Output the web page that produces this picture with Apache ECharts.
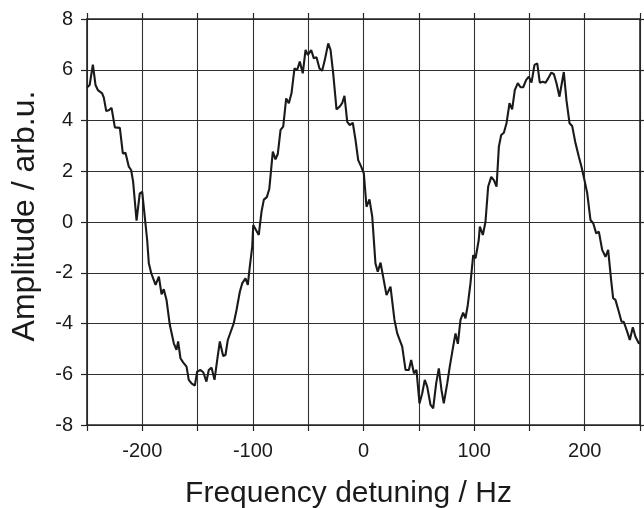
<!DOCTYPE html>
<html>
<head>
<meta charset="utf-8">
<script src="https://cdn.jsdelivr.net/npm/echarts@6/dist/echarts.min.js"></script>
<style>
  html, body { margin: 0; padding: 0; background: #fff; }
  #chart { width: 644px; height: 508px; }
</style>
</head>
<body>
<div id="chart"></div>
<script>
// detuning in Hz
var freq = [
  -250, -247.6, -244.7, -242.3, -240.2, -236.3, -234.8, -232.6, -230.3, -227.8,
  -224.8, -220.3, -217.6, -215.2, -212.2, -210.1, -208.3, -205.2, -202.3, -200.1,
  -195.6, -194.1, -191.9, -188, -185, -182.6, -180.6, -178.1, -175.1, -171.5,
  -169.1, -167.6, -165.5, -163.1, -160, -158, -155.5, -152.5, -150.4, -147.4,
  -144.9, -142, -139.9, -137.4, -134.7, -132.3, -129.9, -126.9, -124.8, -122.7,
  -117.3, -114.8, -111.8, -109.7, -106.7, -104.6, -102.8, -100.6, -99.7, -94.7,
  -92.2, -90.1, -87.4, -85.2, -84.7, -82, -79.6, -77.5, -75, -72.6,
  -69.9, -67.5, -65.1, -62.4, -60, -57.6, -54.9, -52.4, -50.3, -47.3,
  -44.9, -42.5, -39.8, -37.4, -35, -31.9, -29.8, -27.4, -24.4, -21.7,
  -19.3, -17.2, -14.7, -12.4, -9.7, -7.2, -4.8, -2.1, 0.3, 2.7,
  5.4, 7.9, 10.8, 12.9, 15.4, 20.8, 24.4, 28, 30.5, 35,
  38, 41, 43.1, 45.6, 47.9, 50.6, 53.1, 55.4, 57.6, 60.6,
  63, 65.7, 68.1, 70.5, 72.6, 75.7, 78, 81.1, 83.2, 85.3,
  87.7, 90.1, 92.2, 94.3, 96.7, 99.2, 101.3, 104.2, 105.2, 107.9,
  110.3, 112.7, 115.5, 117.9, 120.3, 122.4, 124.5, 126.9, 129.3, 132,
  134.4, 136.8, 139.5, 142, 144.4, 147.1, 149.5, 151.9, 154.6, 157.1,
  159.4, 162.2, 164.6, 167, 169.7, 172.1, 174.5, 177.2, 179, 181.1,
  183.5, 186.3, 188.7, 191.7, 194.7, 197.1, 199.8, 202.3, 205.2, 207.7,
  210.4, 212.8, 215.8, 218.8, 221.2, 223.9, 225.7, 227.8, 230.8, 233.3,
  235.3, 238.4, 240.8, 243.5, 245.9, 248.9, 250
];

// amplitude in arb.u.
var amp = [
  5.3, 5.4, 6.2, 5.4, 5.2, 5.07, 4.9, 4.37, 4.4, 4.5,
  3.73, 3.71, 2.7, 2.73, 2.18, 2.05, 1.59, 0.05, 1.13, 1.19,
  -0.71, -1.63, -2.02, -2.48, -2.15, -2.85, -2.65, -3.07, -4.06, -4.78,
  -5.04, -4.71, -5.37, -5.53, -5.7, -6.22, -6.36, -6.45, -5.9, -5.83,
  -5.92, -6.29, -5.83, -5.74, -6.22, -5.44, -4.71, -5.28, -5.24, -4.65,
  -3.99, -3.47, -2.75, -2.42, -2.22, -2.48, -1.76, -0.97, -0.12, -0.51,
  0.41, 0.88, 0.98, 1.3, 1.52, 2.77, 2.47, 2.68, 3.63, 3.76,
  4.87, 4.68, 5.07, 6.05, 5.99, 6.32, 5.86, 6.78, 6.58, 6.78,
  6.45, 6.49, 6.05, 5.96, 6.38, 7.04, 6.78, 5.86, 4.44, 4.54,
  4.68, 4.97, 3.95, 3.82, 3.91, 3.23, 2.44, 2.18, 1.92, 0.6,
  0.89, 0.21, -1.63, -1.96, -1.6, -2.88, -2.55, -3.86, -4.39, -4.91,
  -5.83, -5.83, -5.44, -5.96, -5.83, -7.15, -6.75, -6.22, -6.49, -7.21,
  -7.34, -6.36, -5.77, -6.62, -7.15, -6.36, -5.7, -4.9, -4.39, -4.8,
  -3.86, -3.57, -3.8, -3.27, -2.42, -1.3, -1.43, -0.71, -0.18, -0.51,
  0.01, 1.39, 1.78, 1.65, 1.39, 2.97, 3.43, 3.52, 3.89, 4.68,
  4.44, 5.2, 5.47, 5.31, 5.31, 5.6, 5.73, 5.49, 6.19, 6.25,
  5.49, 5.53, 5.49, 5.66, 5.88, 5.83, 5.47, 4.94, 4.87, 5.91,
  4.8, 3.89, 3.78, 3.1, 2.57, 2.18, 1.65, 1.13, 0.08, -0.05,
  -0.45, -0.38, -1.1, -1.37, -1.1, -2.29, -3.0, -3.07, -3.53, -3.93,
  -3.93, -4.32, -4.65, -4.15, -4.52, -4.78, -4.78
];

var xTicks = { min: -250, max: 250, step: 50 };
var yTicks = { min: -8, max: 8, step: 2 };

var points = freq.map(function(f, i) { return [f, amp[i]] });

var font = 'Liberation Sans, Arial, Helvetica, sans-serif';
var lineColor = '#262626';

function xAxisOpt(pos, show) {
  return {
    type: 'value',
    position: pos,
    min: xTicks.min,
    max: xTicks.max,
    interval: xTicks.step,
    name: show ? 'Frequency detuning / Hz' : '',
    nameLocation: 'middle',
    nameGap: 54,
    nameTextStyle: { fontFamily: font, fontSize: 30, color: '#1a1a1a', padding: [0, 30, 0, 0] },
    axisLine: { show: true, onZero: false, lineStyle: { color: lineColor, width: 1.6 } },
    axisTick: { show: true, inside: false, length: 6, lineStyle: { color: lineColor, width: 1.2 } },
    axisLabel: {
      show: show,
      margin: 16,
      fontFamily: font,
      fontSize: 20,
      color: '#1a1a1a',
      formatter: function(v) { return v % 100 === 0 ? String(v) : '' }
    },
    splitLine: { show: show, lineStyle: { color: '#303030', width: 1.1 } }
  }
}

function yAxisOpt(pos, show) {
  return {
    type: 'value',
    position: pos,
    min: yTicks.min,
    max: yTicks.max,
    interval: yTicks.step,
    name: show ? 'Amplitude / arb.u.' : '',
    nameLocation: 'middle',
    nameGap: 46,
    nameTextStyle: { fontFamily: font, fontSize: 32, color: '#1a1a1a', padding: [0, 0, 0, 12] },
    axisLine: { show: true, onZero: false, lineStyle: { color: lineColor, width: 1.6 } },
    axisTick: { show: true, inside: false, length: 6, lineStyle: { color: lineColor, width: 1.2 } },
    axisLabel: {
      show: show,
      margin: 14,
      fontFamily: font,
      fontSize: 20,
      color: '#1a1a1a'
    },
    splitLine: { show: show, lineStyle: { color: '#303030', width: 1.1 } }
  }
}

var myChart = echarts.init(document.getElementById('chart'), null, { renderer: 'canvas' })
var option = {
  backgroundColor: '#ffffff',
  animation: false,
  grid: { left: 87, right: 4, top: 19, bottom: 83, containLabel: false, outerBoundsMode: 'none' },
  xAxis: [xAxisOpt('bottom', true), xAxisOpt('top', false)],
  yAxis: [yAxisOpt('left', true), yAxisOpt('right', false)],
  series: [
    {
      type: 'line',
      data: points,
      showSymbol: false,
      symbol: 'none',
      lineStyle: { color: '#1a1a1a', width: 2.1 },
      z: 5
    }
  ]
}
myChart.setOption(option)
</script>
</body>
</html>
